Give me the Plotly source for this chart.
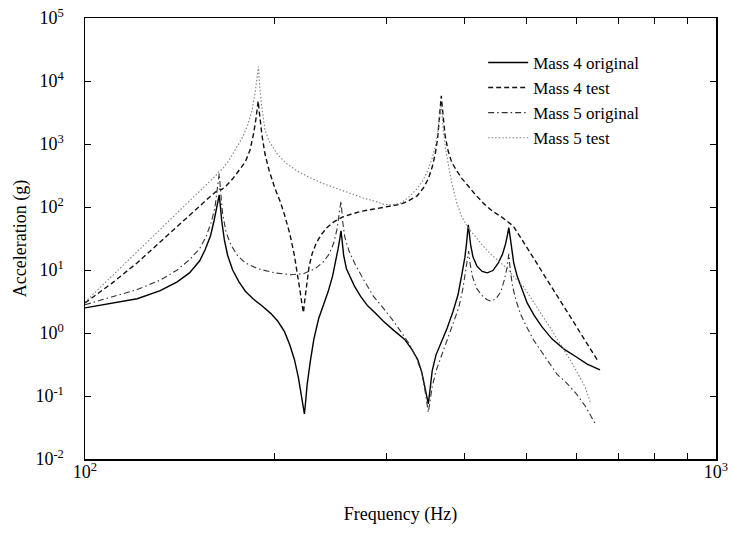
import plotly.graph_objects as go

# ---------------- data ----------------
freq_m4_orig = [100, 110.4, 121, 131.6, 140, 146.4, 152, 155, 158.1, 160.1, 161.7, 162.7, 163.2, 163.8, 164.7,
                166.3, 168.3, 171.4, 175.4, 179.5, 184.6, 190.7, 196.9, 202, 207.1, 211.1, 214.7, 217.8, 220.3,
                221.9, 222.7, 223.4, 224.9, 227.5, 230.5, 234.6, 238.7, 242.8, 246.8, 249.9, 251.9, 253.5,
                254.5, 255.5, 257, 259.6, 263.2, 267.2, 273.4, 280.5, 288.7, 296.8, 308.5, 320.8, 329.6,
                336.7, 341.7, 345, 348, 350, 352, 355, 360, 367, 375, 383, 390, 396, 400,
                402.5, 404, 405, 406.5, 408.5, 412, 418, 426, 434, 443, 452, 459, 464, 467.5, 469.5, 471.5,
                474, 478, 484, 492, 502, 515, 530, 550, 575, 600, 625, 655]
acc_m4_orig = [2.5, 2.95, 3.5, 4.7, 6.5, 9, 14, 21, 35, 60, 95, 140, 155, 110, 60, 30, 17,
               10, 6.5, 4.6, 3.5, 2.7, 2.05, 1.55, 1.05, 0.65, 0.38, 0.2, 0.1, 0.065, 0.052, 0.07, 0.15, 0.35,
               0.8, 1.7, 2.8, 4.5, 8, 14, 22, 32, 42, 30, 17, 10.5, 7.6, 5.6, 3.8, 2.7, 2.05,
               1.55, 1.1, 0.8, 0.55, 0.38, 0.24, 0.15, 0.1, 0.075, 0.12, 0.25, 0.45, 0.7, 1.2, 2.2, 4, 9, 16,
               27, 40, 52, 38, 25, 16, 11.5, 9.5, 9, 9.8, 13, 18, 26, 37, 47, 35,
               22, 13, 8, 5, 3, 1.9, 1.25, 0.8, 0.55, 0.42, 0.32, 0.26]

freq_m4_test = [100, 110.4, 121, 131.6, 142.2, 150.9, 157.1, 161.2, 163.2, 164.7, 167.3, 171.4, 175.4, 179.5,
                182.6, 185.1, 186.7, 188.1, 189.2, 190.7, 192.8, 195.8, 199.9, 204, 207.1, 211.1, 214.7,
                217.3, 219.3, 220.8, 221.9, 222.9, 224.4, 226.4, 229, 232.6, 236.6, 241.7, 247.9, 255, 263.2,
                273.4, 285.6, 295.8, 305.8, 315.7, 325.2, 336, 343.7, 350, 355,
                359, 362, 364.5, 366, 367, 368, 369.5, 372, 376, 381, 388, 396, 405, 415, 429, 443, 456,
                467, 477, 490, 505, 524, 545, 570, 593, 620, 650]
acc_m4_test = [3.0, 6.2, 13, 28, 58, 100, 140, 175, 192, 190, 215, 280, 376, 520, 800, 1500, 2600,
               4800, 2800, 1400, 700, 380, 200, 120, 75, 38, 17, 8.5, 4.5, 2.8, 2.1, 3.2, 6,
               11, 18, 27, 36, 47, 58, 68, 76, 85, 92, 97, 102, 110, 125, 150, 200, 280, 430,
               700, 1200, 2400, 4000, 5800, 4200, 2500, 1400, 800, 520, 380, 280, 215, 160, 112, 85, 71,
               60, 50, 33, 20.4, 11, 6, 2.9, 1.5, 0.77, 0.36]

freq_m5_orig = [100, 110.4, 121, 131.6, 140, 146.4, 152, 155.6, 158.6, 160.7, 162.2, 163.2, 164, 165.2, 167.3,
                170.3, 174.4, 179.5, 187.7, 199.9, 212.2, 222.4, 231.5, 238.7, 243.8, 247.9, 250.9, 253,
                254.5, 256, 258.1, 262.1, 268.3, 275.4, 286.6, 297.8, 307.4, 317.7, 327.2, 335, 341.7, 345.5,
                348, 350, 352, 355, 360, 367, 375, 383, 391, 397,
                401, 403.5, 405.5, 407.5, 411, 417, 425, 433, 440, 448, 456, 462, 466.5, 469.5, 472, 476,
                482, 490, 500, 515, 537, 560, 580, 600, 620, 643]
acc_m5_orig = [2.8, 3.7, 4.9, 6.9, 10, 14.5, 22, 34, 58, 100, 200, 340, 180, 80, 40, 25,
               17, 13, 10.5, 9, 8.4, 8.8, 10.5, 13.5, 18, 27, 45, 80, 125, 60, 33, 20, 12, 7.5,
               3.8, 2.4, 1.6, 1.0, 0.65, 0.4, 0.24, 0.13, 0.08, 0.055, 0.08, 0.14, 0.25, 0.42, 0.75, 1.4,
               2.5, 5, 9.5, 15, 20, 13, 8, 5.2, 4, 3.4, 3.2, 3.5, 4.5, 7, 11, 18, 10, 5.5,
               3.3, 2, 1.3, 0.75, 0.4, 0.22, 0.16, 0.11, 0.07, 0.037]

freq_m5_test = [100, 110.4, 121, 131.6, 142.2, 150.9, 157.1, 161.2, 163.2, 165.2, 169.3, 173.4, 177.5, 181.1,
                184.1, 186.2, 187.7, 188.3, 189.2, 190.7, 192.8, 195.8, 202, 209.1, 217.3, 227.5, 238.7,
                250.9, 262.1, 275.4, 287.6, 297.8, 305.6, 316.1, 325.2, 336, 343.7, 350, 355, 359, 362,
                364.5, 366, 367, 368.5, 370, 373, 377, 381, 388, 395,
                404, 414, 426, 439, 452, 467, 480, 495, 510, 526, 545, 565, 585, 605, 620, 632]
acc_m5_test = [3.1, 8, 20, 44, 94, 165, 245, 316, 370, 400, 560, 820, 1250, 2000, 3500, 7000, 13000,
               17000, 8000, 3700, 1700, 1100, 680, 480, 370, 290, 235, 195, 168, 140, 124, 110, 108, 115,
               140, 195, 270, 400, 600, 900, 1500, 2500, 3500, 4200, 2500, 1500, 800, 420, 250, 120, 72,
               48, 35, 25, 18, 14, 10.5, 7.5, 5.4, 3.5, 2.2, 1.25, 0.7, 0.4, 0.22, 0.14, 0.08]

series_names = ["Mass 4 original", "Mass 4 test", "Mass 5 original", "Mass 5 test"]

x_tick_vals = [100, 200, 300, 400, 500, 600, 700, 800, 900, 1000]
x_tick_text = ["10<sup>2</sup>", "", "", "", "", "", "", "", "", "10<sup>3</sup>"]
y_tick_vals = [1e-2, 1e-1, 1e0, 1e1, 1e2, 1e3, 1e4, 1e5]
y_tick_text = ["10<sup>-2</sup>", "10<sup>-1</sup>", "10<sup>0</sup>", "10<sup>1</sup>",
               "10<sup>2</sup>", "10<sup>3</sup>", "10<sup>4</sup>", "10<sup>5</sup>"]

# ---------------- figure ----------------
FONT = "Liberation Serif"
fig = go.Figure()
fig.add_trace(go.Scatter(x=freq_m4_orig, y=acc_m4_orig, mode="lines", name=series_names[0],
                         line=dict(color="black", width=1.4)))
fig.add_trace(go.Scatter(x=freq_m4_test, y=acc_m4_test, mode="lines", name=series_names[1],
                         line=dict(color="#111111", width=1.4, dash="5px,3px")))
fig.add_trace(go.Scatter(x=freq_m5_orig, y=acc_m5_orig, mode="lines", name=series_names[2],
                         line=dict(color="#333333", width=1.1, dash="6px,3px,1.5px,3px")))
fig.add_trace(go.Scatter(x=freq_m5_test, y=acc_m5_test, mode="lines", name=series_names[3],
                         line=dict(color="#808080", width=1.1, dash="1.5px,2px")))

fig.update_layout(
    width=733, height=549,
    margin=dict(l=85, r=17, t=18, b=90, autoexpand=False),
    paper_bgcolor="white", plot_bgcolor="white",
    font=dict(family=FONT, size=18, color="black"),
    showlegend=True,
    hovermode=False,
    legend=dict(x=0.631, y=0.939, xanchor="left", yanchor="top", bgcolor="rgba(0,0,0,0)",
                font=dict(family=FONT, size=17, color="black"), itemwidth=40, tracegroupgap=0),
)
fig.update_xaxes(type="log", range=[2, 3], tickvals=x_tick_vals, ticktext=x_tick_text,
                 automargin=False,
                 ticks="inside", ticklen=6, tickwidth=1, tickcolor="black",
                 showline=True, linecolor="black", linewidth=1.5, mirror="ticks",
                 showgrid=False, zeroline=False, tickfont=dict(family=FONT, size=18),
                 ticklabelstandoff=-4, ticklabeloverflow="allow",
                 title=dict(text="Frequency (Hz)", standoff=26, font=dict(family=FONT, size=18)))
fig.update_yaxes(type="log", range=[-2, 5], tickvals=y_tick_vals, ticktext=y_tick_text,
                 automargin=False,
                 ticks="inside", ticklen=6, tickwidth=1, tickcolor="black",
                 showline=True, linecolor="black", linewidth=1.5, mirror="ticks",
                 showgrid=False, zeroline=False, tickfont=dict(family=FONT, size=18),
                 ticklabelstandoff=16, ticklabeloverflow="allow",
                 title=dict(text="Acceleration (g)", standoff=4, font=dict(family=FONT, size=18)))

# remove the browser's default 8px body margin so the 733x549 figure fills the window exactly
fig.write_html("out.html",
               config={"displayModeBar": False, "staticPlot": True},
               post_script="document.body.style.margin='0';document.body.style.overflow='hidden';")
